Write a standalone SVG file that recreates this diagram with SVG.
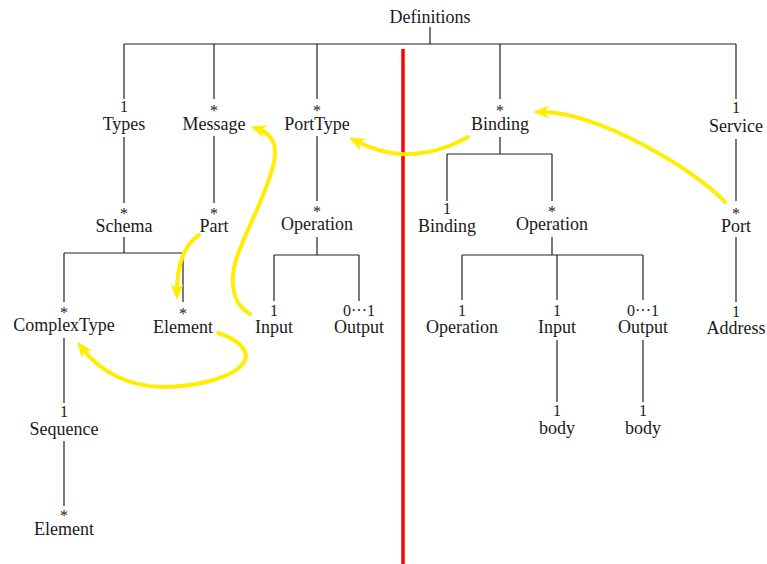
<svg xmlns="http://www.w3.org/2000/svg" width="767" height="564" viewBox="0 0 767 564">
  <style>
    text { font-family: 'Liberation Serif', 'DejaVu Serif', serif; font-size: 18px; fill: #1a1a1a; text-anchor: middle; }
    .m { font-size: 16px; }
    .tree { stroke: #222; stroke-width: 1.2; fill: none; }
    .ref { stroke: #ffee00; stroke-width: 4; fill: none; stroke-linecap: round; marker-end: url(#head); }
    .divider { stroke: #ff0000; stroke-width: 3.5; }
  </style>
  <defs>
    <marker id="head" markerUnits="userSpaceOnUse" markerWidth="20" markerHeight="16" viewBox="0 0 20 16" refX="8" refY="8" orient="auto">
      <path d="M0,1.5 L16,8 L0,14.5 L4.5,8 Z" fill="#ffee00"/>
    </marker>
  </defs>

  <rect width="767" height="564" fill="#ffffff"/>

  <!-- tree connectors -->
  <g id="connectors" class="tree">
    <path d="M430,27 V44 M124,44 H736 M124,44 V99 M214,44 V99 M317,44 V99 M500,44 V99 M736,44 V99"/>
    <path d="M124,137 V203 M214,136 V203 M317,136 V201"/>
    <path d="M124,237 V253 M64,253 H183 M64,253 V302 M183,253 V302"/>
    <path d="M64,338 V403 M64,441 V506"/>
    <path d="M317,237 V255 M274,255 H359 M274,255 V301 M359,255 V301"/>
    <path d="M500,137 V154 M447,154 H552 M447,154 V201 M552,154 V201"/>
    <path d="M552,237 V255 M462,255 H643 M462,255 V300 M557,255 V300 M643,255 V300"/>
    <path d="M557,340 V402 M643,340 V402"/>
    <path d="M736,139 V201 M736,237 V302"/>
  </g>

  <!-- divider -->
  <line class="divider" x1="403" y1="49" x2="403" y2="564"/>

  <!-- nodes -->
  <g id="definitions"><text x="430" y="23" font-family="Liberation Serif">Definitions</text></g>

  <g id="types"><text class="m" x="124" y="112">1</text><text x="124" y="130">Types</text></g>
  <g id="message"><text class="m" x="214" y="116">*</text><text x="214" y="130">Message</text></g>
  <g id="porttype"><text class="m" x="317" y="116">*</text><text x="317" y="130">PortType</text></g>
  <g id="binding"><text class="m" x="500" y="116">*</text><text x="500" y="130">Binding</text></g>
  <g id="service"><text class="m" x="736" y="113">1</text><text x="736" y="132">Service</text></g>

  <g id="schema"><text class="m" x="124" y="219">*</text><text x="124" y="232">Schema</text></g>
  <g id="part"><text class="m" x="214" y="219">*</text><text x="214" y="232">Part</text></g>
  <g id="pt-operation"><text class="m" x="317" y="217">*</text><text x="317" y="230">Operation</text></g>
  <g id="binding-binding"><text class="m" x="447" y="214">1</text><text x="447" y="232">Binding</text></g>
  <g id="binding-operation"><text class="m" x="552" y="217">*</text><text x="552" y="230">Operation</text></g>
  <g id="port"><text class="m" x="736" y="219">*</text><text x="736" y="232">Port</text></g>

  <g id="complextype"><text class="m" x="64" y="318">*</text><text x="64" y="331">ComplexType</text></g>
  <g id="schema-element"><text class="m" x="183" y="319">*</text><text x="183" y="333">Element</text></g>
  <g id="pt-input"><text class="m" x="274" y="316">1</text><text x="274" y="333">Input</text></g>
  <g id="pt-output"><text class="m" x="359" y="316">0···1</text><text x="359" y="333">Output</text></g>
  <g id="b-operation"><text class="m" x="462" y="316">1</text><text x="462" y="333">Operation</text></g>
  <g id="b-input"><text class="m" x="557" y="316">1</text><text x="557" y="333">Input</text></g>
  <g id="b-output"><text class="m" x="643" y="316">0···1</text><text x="643" y="333">Output</text></g>
  <g id="address"><text class="m" x="736" y="317">1</text><text x="736" y="334">Address</text></g>

  <g id="sequence"><text class="m" x="64" y="417">1</text><text x="64" y="435">Sequence</text></g>
  <g id="b-input-body"><text class="m" x="557" y="416">1</text><text x="557" y="434">body</text></g>
  <g id="b-output-body"><text class="m" x="643" y="416">1</text><text x="643" y="434">body</text></g>

  <g id="sequence-element"><text class="m" x="64" y="521">*</text><text x="64" y="535">Element</text></g>

  <!-- type references -->
  <g id="references">
    <path class="ref" d="M468,137 C445,150 420,155 400,154 C385,153 368,147 356,141"/>
    <path class="ref" d="M725,202 C698,172 600,112 541,112"/>
    <path class="ref" d="M250,314 C236,306 230,290 234,268 C238,245 262,205 272,170 C278,150 276,135 258,129"/>
    <path class="ref" d="M199,235 C183,246 177,265 177,292"/>
    <path class="ref" d="M218,333 C240,340 250,352 244,362 C234,378 195,387 163,387 C130,387 100,372 82,348"/>
  </g>
</svg>
